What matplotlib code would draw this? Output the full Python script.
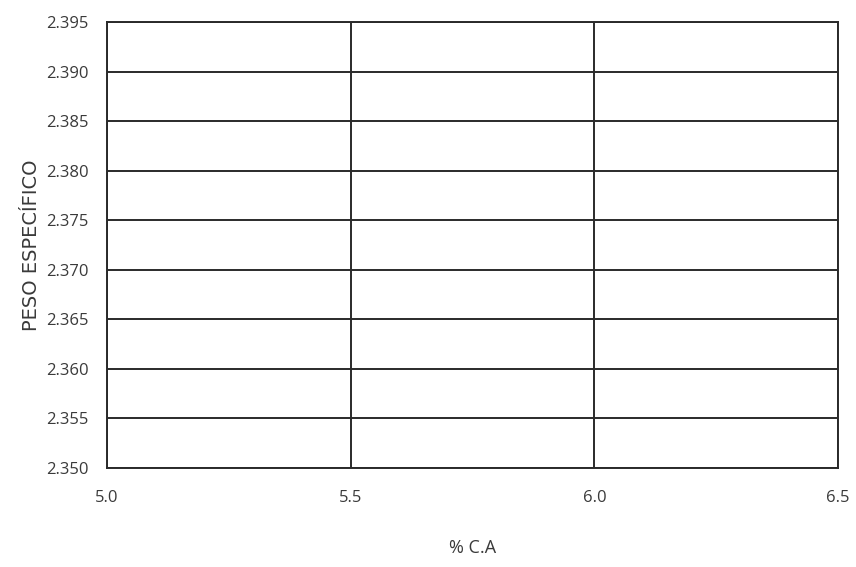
import matplotlib
matplotlib.use("Agg")
import matplotlib.pyplot as plt
import numpy as np

x_ticks = [5.0, 5.5, 6.0, 6.5]
x_tick_labels = ["5.0", "5.5", "6.0", "6.5"]
y_ticks = [2.350, 2.355, 2.360, 2.365, 2.370, 2.375, 2.380, 2.385, 2.390, 2.395]
y_tick_labels = ["2.350", "2.355", "2.360", "2.365", "2.370", "2.375", "2.380", "2.385", "2.390", "2.395"]
x_label = "% C.A"
y_label = "PESO ESPECÍFICO"

plt.rcParams['font.family'] = ['Open Sans', 'DejaVu Sans']
fig = plt.figure(figsize=(8.56, 5.67), dpi=100)
ax = fig.add_axes([0.125, 0.175, 0.854, 0.786])
ax.set_xlim(x_ticks[0], x_ticks[-1])
ax.set_ylim(y_ticks[0], y_ticks[-1])
ax.set_xticks(x_ticks)
ax.set_xticklabels(x_tick_labels, fontsize=12, color="#3a3a3a")
ax.set_yticks(y_ticks)
ax.set_yticklabels(y_tick_labels, fontsize=12, color="#3a3a3a")
ax.tick_params(axis='x', length=0, pad=16)
ax.tick_params(axis='y', length=0, pad=13)
ax.grid(True, color="#2a2a2a", linewidth=1.4)
for s in ax.spines.values():
    s.set_color("#2a2a2a")
    s.set_linewidth(1.4)
ax.set_xlabel(x_label, fontsize=13, color="#3a3a3a", labelpad=24)
ax.set_ylabel(y_label, fontsize=14, color="#3a3a3a", labelpad=4, family=['DejaVu Sans'])
fig.savefig("out.png", dpi=100, facecolor="white")
